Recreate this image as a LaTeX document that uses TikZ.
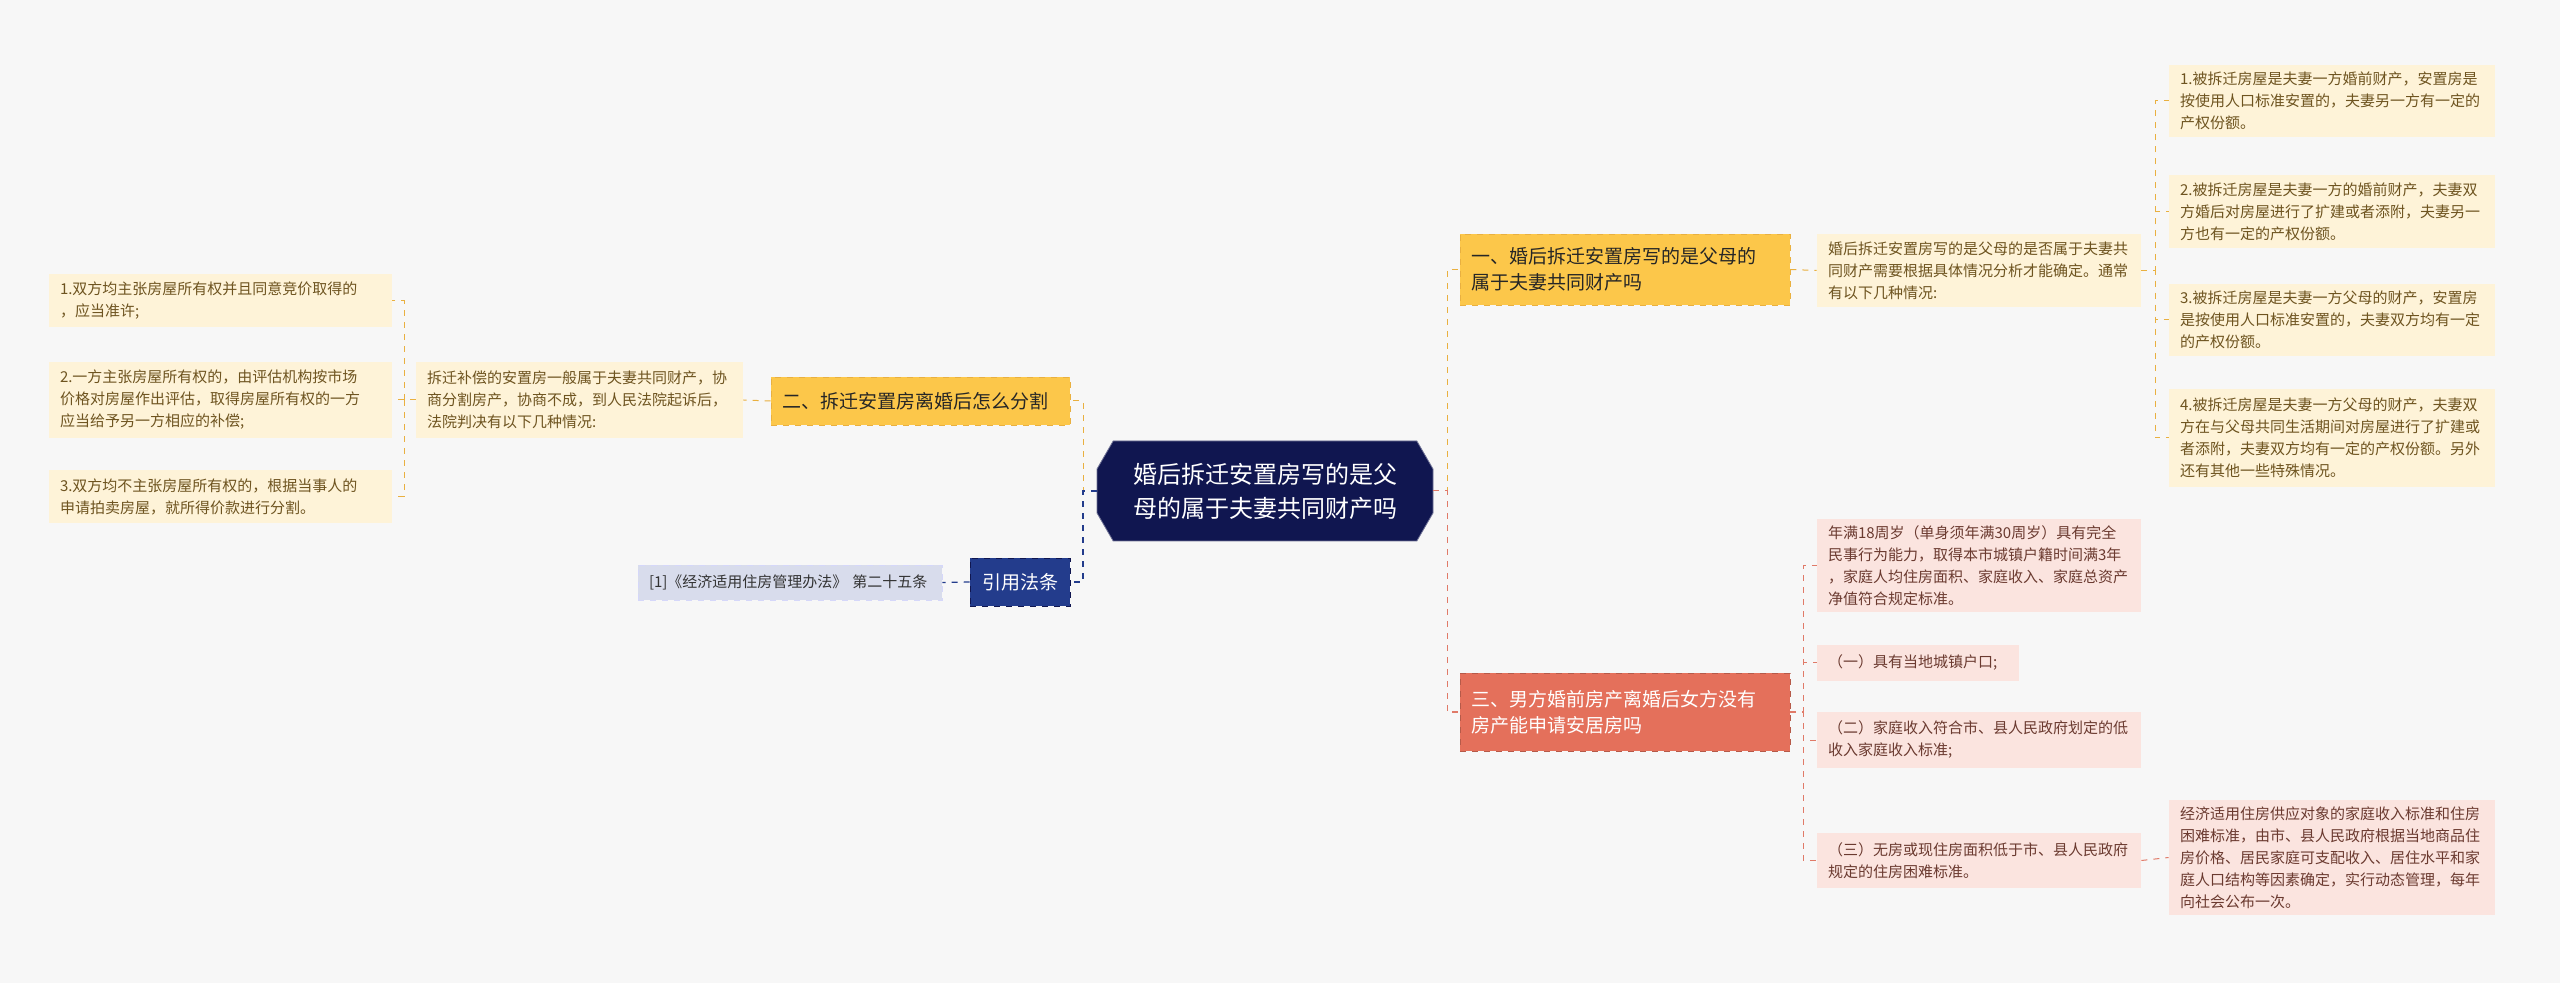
\documentclass[tikz,border=0pt]{standalone}
\usepackage{fontspec}
\setmainfont{Noto Sans CJK SC}
\usetikzlibrary{shapes.misc}
\definecolor{bg}{HTML}{F7F7F7}
\definecolor{navy}{HTML}{101650}
\definecolor{refblue}{HTML}{233C8C}
\definecolor{gold}{HTML}{FCC74A}
\definecolor{goldline}{HTML}{E9B040}
\definecolor{yleaf}{HTML}{FEF3D8}
\definecolor{ytext}{HTML}{6E5420}
\definecolor{salmon}{HTML}{E4705B}
\definecolor{redline}{HTML}{E07A68}
\definecolor{pleaf}{HTML}{FBE4DF}
\definecolor{ptext}{HTML}{6B3A30}
\definecolor{refleaf}{HTML}{D8DCEC}
\tikzset{
 base/.style={inner sep=0pt, align=left, font=\fontsize{7.5pt}{11pt}\selectfont},
 yl/.style={base, fill=yleaf, text=ytext},
 pl/.style={base, fill=pleaf, text=ptext},
 rl/.style={base, fill=refleaf, text=black!80, draw=refleaf!70!blue!40, dashed},
 br1/.style={base, fill=gold, draw=goldline, dashed, text=black!85, font=\fontsize{9.5pt}{13pt}\selectfont},
 br3/.style={base, fill=salmon, draw=salmon!80!black, dashed, text=white, font=\fontsize{9.5pt}{13pt}\selectfont},
 brr/.style={base, fill=refblue, draw=navy, dashed, text=white, font=\fontsize{9.5pt}{13pt}\selectfont, align=center},
 cy/.style={goldline, dashed, line width=0.5pt},
 cr/.style={redline, dashed, line width=0.5pt},
 cb/.style={refblue, dashed, line width=0.6pt},
}
% \bx{style}{name}{x1}{y1}{x2}{y2}{text}
\newcommand\bx[7]{%
 \pgfmathsetmacro\bw{(#5-#3)*0.5}\pgfmathsetmacro\bh{(#6-#4)*0.5}%
 \pgfmathsetmacro\tw{(#5-#3-22)*0.5}%
 \node[#1, minimum width=\bw pt, minimum height=\bh pt, text width=\tw pt] (#2) at ({(#3+#5)/2},{(#4+#6)/2}) {#7};}
\newcommand\elbow[4]{% style, from anchor, mid x, to anchor
 \draw[#1] (#2) -- (#3,0 |- #2) -- (#3,0 |- #4) -- (#4);}
\begin{document}
\begin{tikzpicture}[x=0.5pt,y=-0.5pt]
\fill[bg] (0,0) rectangle (2560,983);
\useasboundingbox (0,0) rectangle (2560,983);
% center
\node[chamfered rectangle, chamfered rectangle xsep=6pt, chamfered rectangle angle=30, fill=navy, draw=navy!60, minimum width=168pt, minimum height=50pt, text=white, align=center, inner sep=0pt, font=\fontsize{12pt}{17pt}\selectfont] (c) at (1265,491) {婚后拆迁安置房写的是父\\母的属于夫妻共同财产吗};
% branch 1
\bx{br1}{b1}{1460}{234}{1790}{305}{一、婚后拆迁安置房写的是父母的\\属于夫妻共同财产吗}
\bx{yl}{d1}{1817}{234}{2141}{307}{婚后拆迁安置房写的是父母的是否属于夫妻共\\同财产需要根据具体情况分析才能确定。通常\\有以下几种情况:}
\bx{yl}{l1}{2169}{65}{2495}{137}{1.被拆迁房屋是夫妻一方婚前财产，安置房是\\按使用人口标准安置的，夫妻另一方有一定的\\产权份额。}
\bx{yl}{l2}{2169}{175}{2495}{248}{2.被拆迁房屋是夫妻一方的婚前财产，夫妻双\\方婚后对房屋进行了扩建或者添附，夫妻另一\\方也有一定的产权份额。}
\bx{yl}{l3}{2169}{284}{2495}{356}{3.被拆迁房屋是夫妻一方父母的财产，安置房\\是按使用人口标准安置的，夫妻双方均有一定\\的产权份额。}
\bx{yl}{l4}{2169}{389}{2495}{487}{4.被拆迁房屋是夫妻一方父母的财产，夫妻双\\方在与父母共同生活期间对房屋进行了扩建或\\者添附，夫妻双方均有一定的产权份额。另外\\还有其他一些特殊情况。}
% branch 3
\bx{br3}{b3}{1460}{673}{1790}{751}{三、男方婚前房产离婚后女方没有\\房产能申请安居房吗}
\bx{pl}{p1}{1817}{519}{2141}{612}{年满18周岁（单身须年满30周岁）具有完全\\民事行为能力，取得本市城镇户籍时间满3年\\，家庭人均住房面积、家庭收入、家庭总资产\\净值符合规定标准。}
\bx{pl}{p2}{1817}{645}{2019}{681}{（一）具有当地城镇户口;}
\bx{pl}{p3}{1817}{712}{2141}{768}{（二）家庭收入符合市、县人民政府划定的低\\收入家庭收入标准;}
\bx{pl}{p4}{1817}{833}{2141}{888}{（三）无房或现住房面积低于市、县人民政府\\规定的住房困难标准。}
\bx{pl}{p5}{2169}{800}{2495}{915}{经济适用住房供应对象的家庭收入标准和住房\\困难标准，由市、县人民政府根据当地商品住\\房价格、居民家庭可支配收入、居住水平和家\\庭人口结构等因素确定，实行动态管理，每年\\向社会公布一次。}
% branch 2
\bx{br1}{b2}{771}{377}{1070}{425}{二、拆迁安置房离婚后怎么分割}
\bx{yl}{d2}{416}{362}{743}{438}{拆迁补偿的安置房一般属于夫妻共同财产，协\\商分割房产，协商不成，到人民法院起诉后，\\法院判决有以下几种情况:}
\bx{yl}{m1}{49}{274}{392}{327}{1.双方均主张房屋所有权并且同意竞价取得的\\，应当准许;}
\bx{yl}{m2}{49}{362}{392}{438}{2.一方主张房屋所有权的，由评估机构按市场\\价格对房屋作出评估，取得房屋所有权的一方\\应当给予另一方相应的补偿;}
\bx{yl}{m3}{49}{470}{392}{523}{3.双方均不主张房屋所有权的，根据当事人的\\申请拍卖房屋，就所得价款进行分割。}
% ref
\node[brr, minimum width=50pt, minimum height=24pt] (r) at (1020,582) {引用法条};
\bx{rl}{r1}{638}{565}{942}{600}{[1]《经济适用住房管理办法》 第二十五条}
% connectors
\elbow{cy}{c.east}{1447}{b1.west}
\elbow{cr}{c.east}{1447}{b3.west}
\draw[cy] (b1.east) -- (d1.west);
\foreach \n in {l1,l2,l3,l4}{\elbow{cy}{d1.east}{2155}{\n.west}}
\foreach \n in {p1,p2,p3,p4}{\elbow{cr}{b3.east}{1803}{\n.west}}
\draw[cr] (p4.east) -- (p5.west);
\elbow{cy}{c.west}{1083}{b2.east}
\elbow{cb}{c.west}{1083}{r.east}
\draw[cy] (b2.west) -- (d2.east);
\foreach \n in {m1,m2,m3}{\elbow{cy}{d2.west}{404}{\n.east}}
\draw[cb] (r.west) -- (r1.east);
\end{tikzpicture}
\end{document}
